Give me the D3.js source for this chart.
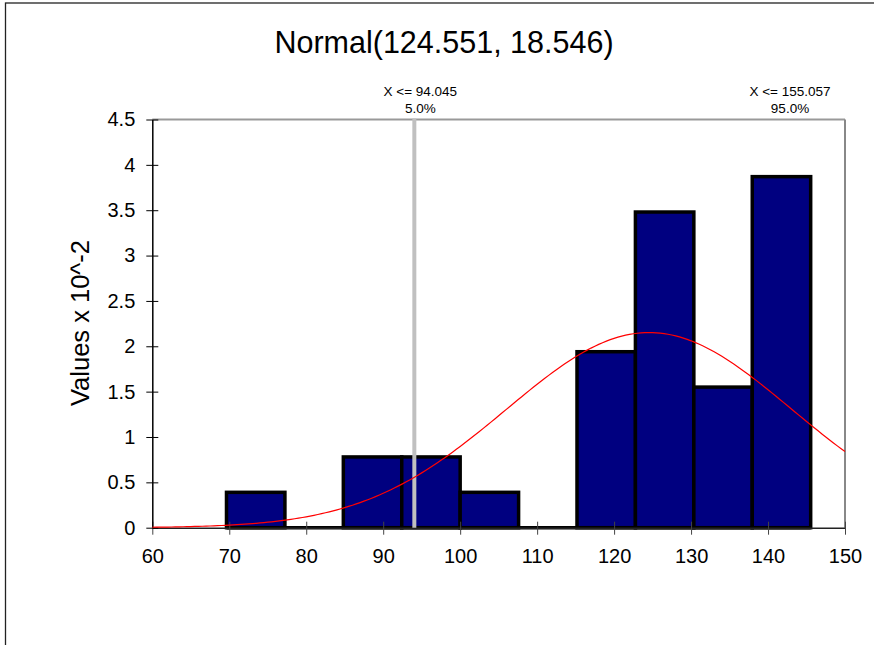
<!DOCTYPE html>
<html>
<head>
<meta charset="utf-8">
<script src="https://cdn.jsdelivr.net/npm/d3@7"></script>
<style>
  html, body { margin: 0; padding: 0; background: #fff; }
  svg { display: block; font-family: "Liberation Sans", Arial, sans-serif; }
</style>
</head>
<body>
<svg id="chart" width="874" height="645"></svg>
<script>
// ---- data ----
const title = "Normal(124.551, 18.546)";
const yLabel = "Values x 10^-2";
const binStart = 69.64;
const binWidth = 7.59;
const binValues = [0.39, 0, 0.78, 0.78, 0.39, 0, 1.94, 3.48, 1.55, 3.87];
const xTicks = [60, 70, 80, 90, 100, 110, 120, 130, 140, 150];
const yTicks = [0, 0.5, 1, 1.5, 2, 2.5, 3, 3.5, 4, 4.5];
const fitMean = 124.551;
const fitSd = 18.546;
const markers = [
  { x: 94.045, label: "X <= 94.045", pct: "5.0%" },
  { x: 155.057, label: "X <= 155.057", pct: "95.0%" }
];

// ---- layout ----
const svg = d3.select("#chart");
const x = d3.scaleLinear().domain([60, 150]).range([152.3, 845]);
const y = d3.scaleLinear().domain([0, 4.5]).range([527.7, 119.5]);

// outer frame
svg.append("rect").attr("x", 5.5).attr("y", 3).attr("width", 900).attr("height", 700)
  .attr("fill", "none").attr("stroke", "#222").attr("stroke-width", 1.3);

// title
svg.append("text").attr("x", 444).attr("y", 52.5).attr("text-anchor", "middle")
  .attr("font-size", 30.5).attr("fill", "#000").text(title);

// y label
svg.append("text").attr("transform", "translate(89,323) rotate(-90)")
  .attr("text-anchor", "middle").attr("font-size", 25.5).attr("fill", "#000").text(yLabel);

// plot top/right borders (gray)
svg.append("line").attr("x1", x(60)).attr("x2", x(150)).attr("y1", y(4.5)).attr("y2", y(4.5))
  .attr("stroke", "#999").attr("stroke-width", 2);
svg.append("line").attr("x1", x(150)).attr("x2", x(150)).attr("y1", y(4.5)).attr("y2", y(0))
  .attr("stroke", "#888").attr("stroke-width", 2);

// bars
const bins = binValues.map((v, i) => ({ x0: binStart + i * binWidth, x1: binStart + (i + 1) * binWidth, v }));
const barG = svg.append("g");
// baseline outline under histogram
barG.append("line").attr("x1", x(bins[0].x0)).attr("x2", x(bins[bins.length - 1].x1))
  .attr("y1", y(0)).attr("y2", y(0)).attr("stroke", "#000").attr("stroke-width", 3.5);
barG.selectAll("rect").data(bins.filter(d => d.v > 0)).join("rect")
  .attr("x", d => x(d.x0)).attr("width", d => x(d.x1) - x(d.x0))
  .attr("y", d => y(d.v)).attr("height", d => y(0) - y(d.v))
  .attr("fill", "#000080").attr("stroke", "#000").attr("stroke-width", 3.5);

// axes
const xAxis = d3.axisBottom(x).tickValues(xTicks).tickSizeInner(7).tickSizeOuter(0).tickPadding(14).tickFormat(d3.format("d"));
const xg = svg.append("g").attr("transform", `translate(0,${y(0)})`).call(xAxis);
xg.select(".domain").attr("stroke", "#222").attr("stroke-width", 1.5);
xg.selectAll(".tick line").attr("stroke", "#444").attr("y1", -6).attr("y2", 7);
xg.selectAll(".tick text").attr("font-size", 20).attr("fill", "#000").attr("font-family", "Liberation Sans, Arial, sans-serif");

const yAxis = d3.axisLeft(y).tickValues(yTicks).tickSizeInner(6).tickSizeOuter(0).tickPadding(11).tickFormat(d3.format("~g"));
const yg = svg.append("g").attr("transform", `translate(${x(60)},0)`).call(yAxis);
yg.select(".domain").attr("stroke", "#000").attr("stroke-width", 1.5);
yg.selectAll(".tick line").attr("stroke", "#000").attr("x1", -6).attr("x2", 6);
yg.selectAll(".tick text").attr("font-size", 20).attr("fill", "#000").attr("font-family", "Liberation Sans, Arial, sans-serif");

// marker line (in range only)
markers.forEach((m, i) => {
  const inRange = m.x >= 60 && m.x <= 150;
  if (inRange) {
    svg.append("line").attr("x1", x(m.x)).attr("x2", x(m.x)).attr("y1", y(4.5) - 1).attr("y2", y(0))
      .attr("stroke", "#c0c0c0").attr("stroke-width", 4);
  }
  const lx = inRange ? x(m.x) + 6 : x(150) - 55;
  svg.append("text").attr("x", lx).attr("y", 96).attr("text-anchor", "middle")
    .attr("font-size", 13.5).attr("fill", "#000").text(m.label);
  svg.append("text").attr("x", lx).attr("y", 112.5).attr("text-anchor", "middle")
    .attr("font-size", 13.5).attr("fill", "#000").text(m.pct);
});

// fitted normal density (x 10^-2)
const pdf = v => 100 * Math.exp(-0.5 * Math.pow((v - fitMean) / fitSd, 2)) / (fitSd * Math.sqrt(2 * Math.PI));
const curvePts = d3.range(60, 150.001, 0.5).map(v => [v, pdf(v)]);
svg.append("path").datum(curvePts)
  .attr("d", d3.line().x(d => x(d[0])).y(d => y(d[1])))
  .attr("fill", "none").attr("stroke", "#ff0000").attr("stroke-width", 1.2);
</script>
</body>
</html>
